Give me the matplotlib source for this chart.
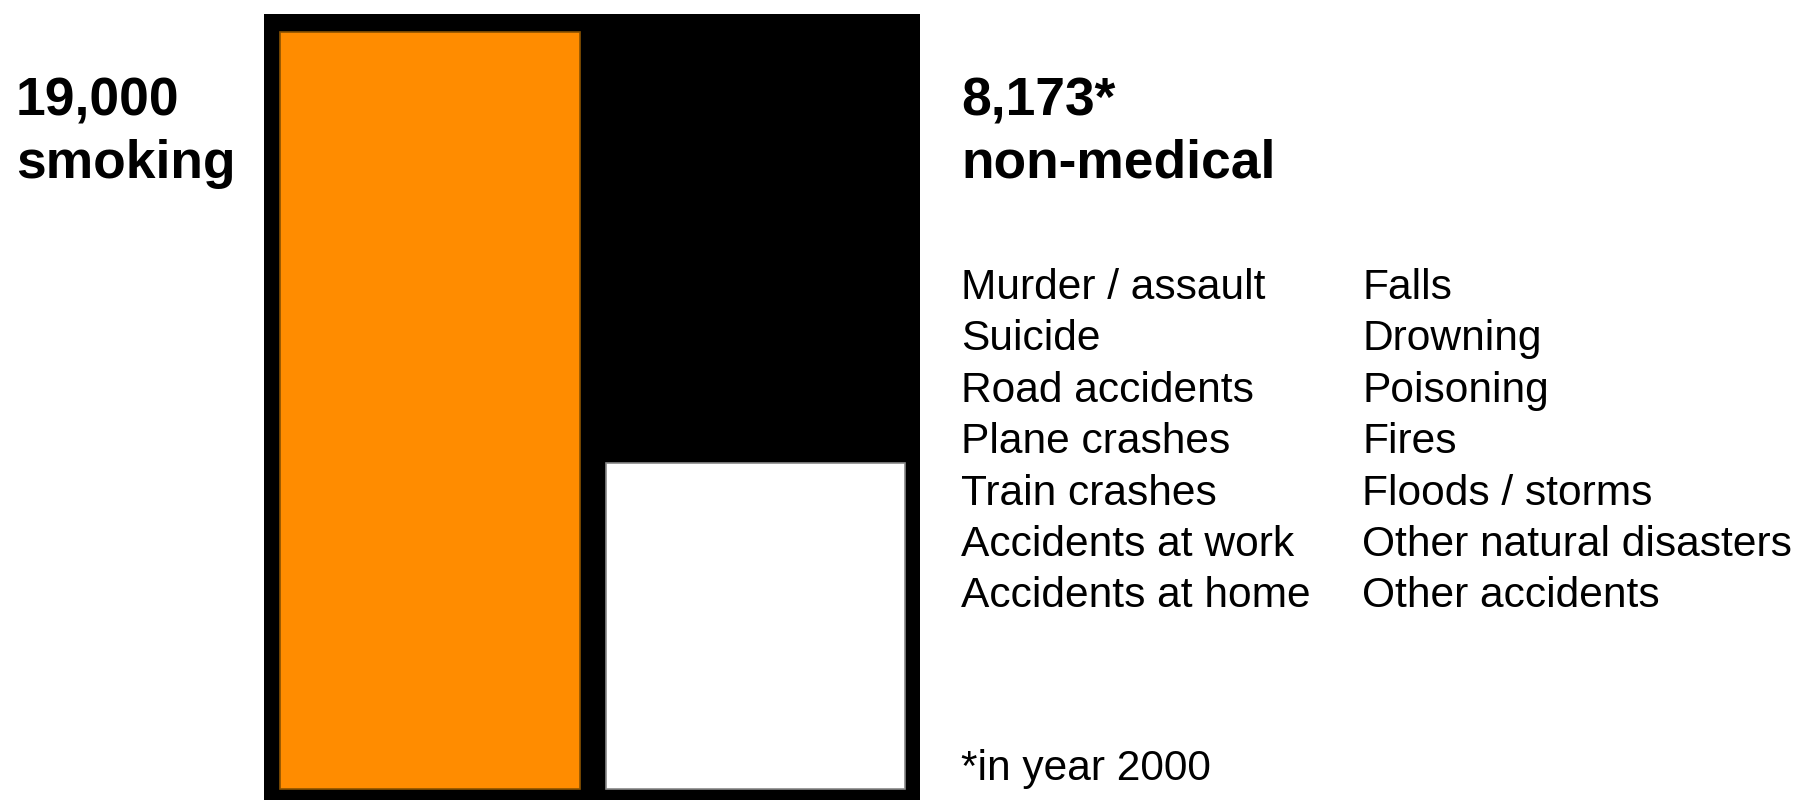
import matplotlib.pyplot as plt

plt.rcParams['font.family'] = ['Liberation Sans', 'DejaVu Sans']

# deaths per year (UK)
categories = ['smoking', 'non-medical']
values = [19000, 8173]
bar_colors = ['#ff8c00', '#ffffff']
edge_colors = ['#8a5200', '#888888']
headline = ['19,000', '8,173*']

causes_left = ['Murder / assault', 'Suicide', 'Road accidents', 'Plane crashes',
               'Train crashes', 'Accidents at work', 'Accidents at home']
causes_right = ['Falls', 'Drowning', 'Poisoning', 'Fires', 'Floods / storms',
                'Other natural disasters', 'Other accidents']
footnote = '*in year 2000'

W, H = 1798, 800
fig = plt.figure(figsize=(W / 100, H / 100), dpi=100)
ax = fig.add_axes([264 / W, 0, 656 / W, 786 / H])
ax.set_facecolor('black')
ax.bar(range(len(values)), values, width=0.92, color=bar_colors,
       edgecolor=edge_colors, linewidth=1.2)
ax.set_xlim(-0.51, 1.505)
ax.set_ylim(-276, 19452)
ax.set_xticks([])
ax.set_yticks([])
for s in ax.spines.values():
    s.set_visible(False)


def fy(py):
    # pixel row from top -> figure fraction
    return 1 - py / H


big = 38.4
small = 30.6
fig.text(16 / W, fy(115), headline[0], fontsize=big, fontweight='bold', va='baseline')
fig.text(16 / W, fy(178), categories[0], fontsize=big, fontweight='bold', va='baseline')
fig.text(961 / W, fy(115), headline[1], fontsize=big, fontweight='bold', va='baseline')
fig.text(961 / W, fy(178), categories[1], fontsize=big, fontweight='bold', va='baseline')

for i, (a, b) in enumerate(zip(causes_left, causes_right)):
    y = fy(299 + i * 51.4)
    fig.text(961 / W, y, a, fontsize=small, va='baseline')
    fig.text(1362 / W, y, b, fontsize=small, va='baseline')

fig.text(961 / W, fy(780), footnote, fontsize=small, va='baseline')

fig.savefig('out.png', dpi=100, facecolor='white')
